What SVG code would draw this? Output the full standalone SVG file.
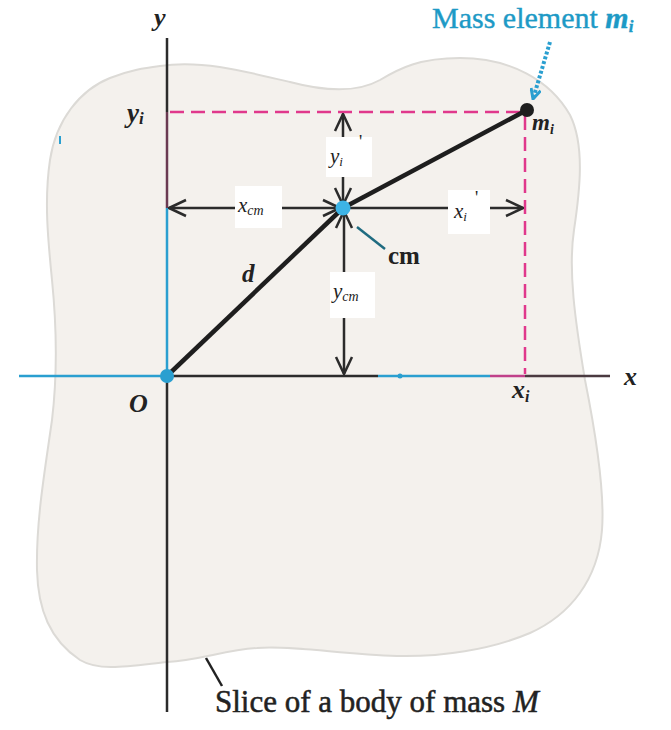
<svg xmlns="http://www.w3.org/2000/svg" width="671" height="730" viewBox="0 0 671 730">
<style>
.var{font-family:"Liberation Serif",serif;font-style:italic;font-weight:bold;fill:#222}
.lbl{font-family:"Liberation Serif",serif;font-style:italic;fill:#222}
.prime{font-family:"Liberation Serif",serif;fill:#222}
.dim{stroke:#2b2b2b;stroke-width:2.5;fill:none}
.box{fill:#ffffff}
.pink{stroke:#e0388c;stroke-width:2.5;stroke-dasharray:14 7;fill:none}
</style>
<defs>
<marker id="arr" viewBox="0 0 20 20" refX="19" refY="10" markerWidth="20" markerHeight="20" markerUnits="userSpaceOnUse" orient="auto-start-reverse">
<path d="M2,2 L19,10 L2,18" fill="none" stroke="#2b2b2b" stroke-width="2.5"/>
</marker>
<marker id="barr" viewBox="0 0 12 12" refX="11" refY="6" markerWidth="12" markerHeight="12" markerUnits="userSpaceOnUse" orient="auto">
<path d="M1,1 L11,6 L1,11" fill="none" stroke="#2a9fd0" stroke-width="3"/>
</marker>
</defs>
<rect width="671" height="730" fill="#ffffff"/>
<g id="body">
<path d="M160,66 C200,60 240,70 290,82 C320,90 355,94 380,80 C400,68 420,58 460,58 C510,58 550,80 570,115 C585,145 580,190 574,230 C568,270 575,320 585,380 C595,430 605,490 602,530 C598,580 570,615 530,633 C490,650 440,657 397,656 C340,654 290,645 257,648 C225,650 200,660 167,662 C130,666 100,672 80,660 C50,640 38,610 37,570 C36,520 45,470 52,420 C58,370 56,320 52,280 C48,240 44,200 50,160 C56,120 80,90 110,78 C130,70 145,68 160,66 Z" fill="#f4f1ed" stroke="#dcdad6" stroke-width="2"/>
<path d="M60,136 L60,144" stroke="#2a9fd0" stroke-width="2"/>
</g>
<g id="axes">
<line x1="167" y1="38" x2="167" y2="112" stroke="#2b2b2b" stroke-width="2.5"/>
<line x1="167" y1="112" x2="167" y2="208" stroke="#6a3a52" stroke-width="2.5"/>
<line x1="167" y1="208" x2="167" y2="376" stroke="#2a9fd0" stroke-width="2.5"/>
<line x1="167" y1="376" x2="167" y2="712" stroke="#2b2b2b" stroke-width="2.5"/>
<line x1="19" y1="376" x2="167" y2="376" stroke="#2a9fd0" stroke-width="2.5"/>
<line x1="167" y1="376" x2="378" y2="376" stroke="#2b2b2b" stroke-width="2.5"/>
<line x1="378" y1="376" x2="490" y2="376" stroke="#2a9fd0" stroke-width="2.5"/>
<line x1="490" y1="376" x2="525" y2="376" stroke="#c0408a" stroke-width="2.5"/>
<line x1="525" y1="376" x2="610" y2="376" stroke="#4a3a40" stroke-width="2.5"/>
<circle cx="400" cy="376" r="2.5" fill="#2a9fd0"/>
<text class="var" x="154" y="26" font-size="26">y</text>
<text class="var" x="624" y="385" font-size="26">x</text>
<text class="var" x="129" y="412" font-size="26">O</text>
</g>
<g id="connectors">
<line class="pink" x1="170" y1="112" x2="522" y2="112"/>
<line class="pink" x1="525" y1="116" x2="525" y2="374"/>
<line x1="167" y1="376" x2="343" y2="208" stroke="#1e1e1e" stroke-width="4.5"/>
<line x1="343" y1="208" x2="527" y2="110" stroke="#1e1e1e" stroke-width="4.5"/>
<line class="dim" x1="169" y1="208" x2="340" y2="208" marker-start="url(#arr)" marker-end="url(#arr)"/>
<line class="dim" x1="346" y1="208" x2="523" y2="208" marker-end="url(#arr)"/>
<line class="dim" x1="343" y1="114" x2="343" y2="205" marker-start="url(#arr)" marker-end="url(#arr)"/>
<line class="dim" x1="344" y1="211" x2="344" y2="374" marker-start="url(#arr)" marker-end="url(#arr)"/>
<line x1="357" y1="227" x2="385" y2="249" stroke="#1f6b80" stroke-width="2.5"/>
<line x1="550" y1="42" x2="533" y2="99" stroke="#2a9fd0" stroke-width="4" stroke-dasharray="3 2" marker-end="url(#barr)"/>
<line x1="206" y1="658" x2="222" y2="686" stroke="#222" stroke-width="2.5"/>
</g>
<g id="origin">
<circle cx="167" cy="376" r="7" fill="#2a9fd0"/>
</g>
<g id="cm">
<circle cx="343" cy="208" r="7.5" fill="#3db4e6"/>
<text x="388" y="264" font-family="Liberation Serif,serif" font-weight="bold" font-size="25" fill="#222">cm</text>
</g>
<g id="mass">
<circle cx="527" cy="110" r="7" fill="#1e1e1e"/>
<text class="var" x="532" y="130" font-size="23">m<tspan font-size="14" dy="4">i</tspan></text>
</g>
<g id="labels">
<text class="var" x="127" y="122" font-size="27">y<tspan font-size="17" dy="2">i</tspan></text>
<text class="var" x="512" y="398" font-size="26">x<tspan font-size="16" dy="4">i</tspan></text>
<text class="var" x="242" y="282" font-size="25">d</text>
<rect class="box" x="235" y="186" width="47" height="42"/>
<text class="lbl" x="238" y="212" font-size="21">x<tspan font-size="14" dy="3">cm</tspan></text>
<rect class="box" x="326" y="137" width="46" height="40"/>
<text class="lbl" x="330" y="163" font-size="21">y<tspan font-size="13" dy="3">i</tspan></text>
<text class="prime" x="359" y="148" font-size="18">'</text>
<rect class="box" x="448" y="190" width="42" height="44"/>
<text class="lbl" x="454" y="218" font-size="21">x<tspan font-size="13" dy="3">i</tspan></text>
<text class="prime" x="475" y="204" font-size="18">'</text>
<rect class="box" x="330" y="272" width="45" height="46"/>
<text class="lbl" x="333" y="298" font-size="21">y<tspan font-size="14" dy="3">cm</tspan></text>
<text x="432" y="28" font-family="Liberation Serif,serif" font-size="30" fill="#1d9ac6" stroke="#1d9ac6" stroke-width="0.4">Mass element <tspan font-style="italic" font-weight="bold">m<tspan font-size="17" dy="4">i</tspan></tspan></text>
<text x="215" y="712" font-family="Liberation Serif,serif" font-size="31" fill="#222" stroke="#222" stroke-width="0.5">Slice of a body of mass <tspan font-style="italic">M</tspan></text>
</g>
</svg>
